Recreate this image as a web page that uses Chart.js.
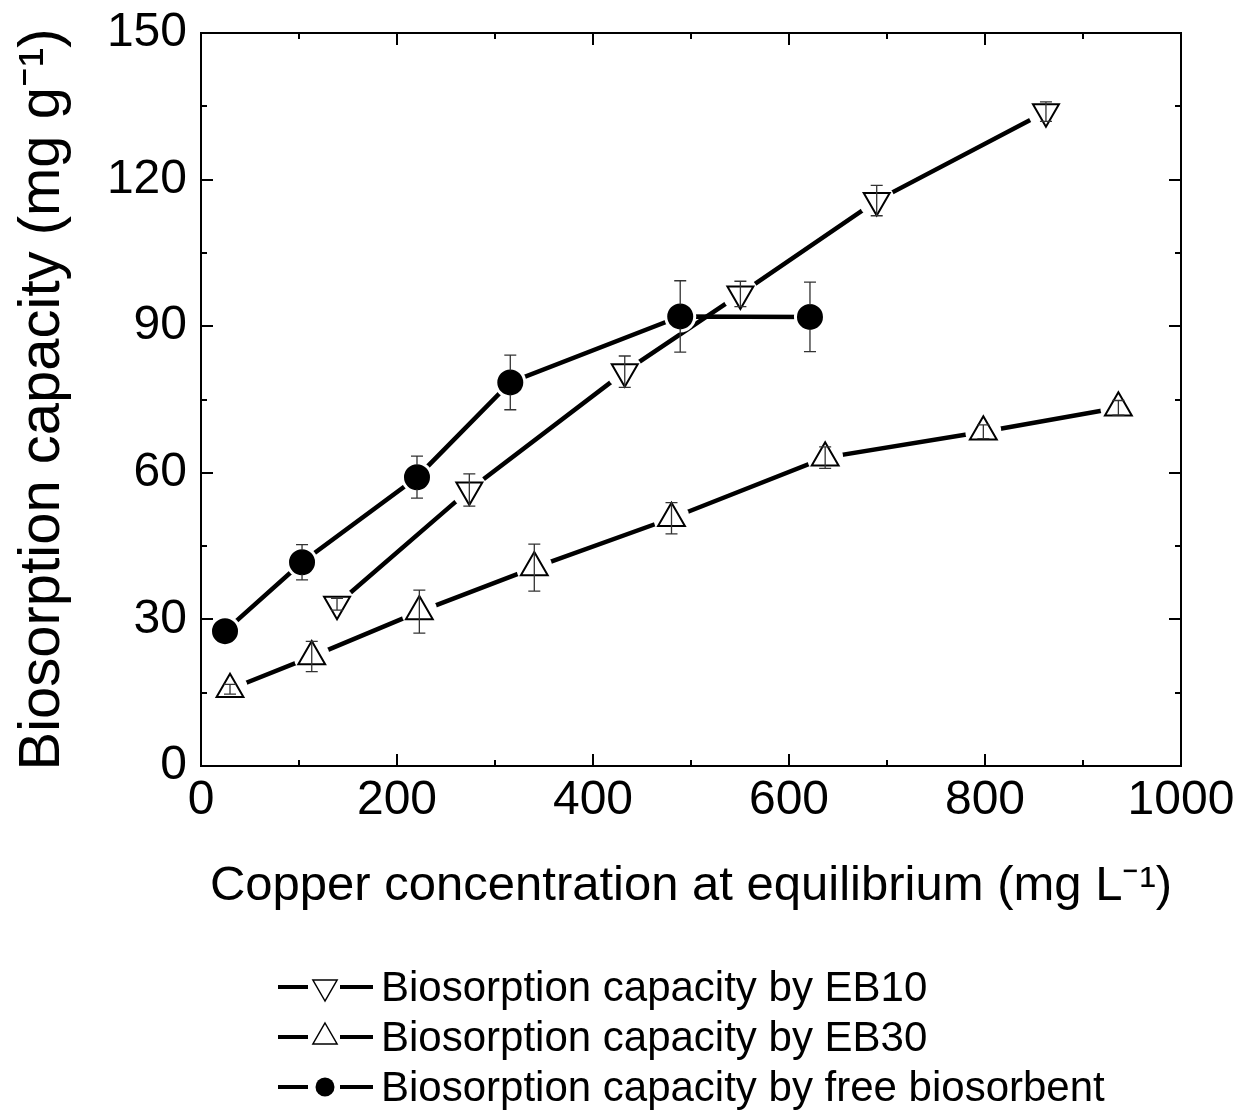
<!DOCTYPE html>
<html>
<head>
<meta charset="utf-8">
<script src="https://cdn.jsdelivr.net/npm/chart.js@4.4.1/dist/chart.umd.min.js"></script>
<style>
html, body { margin: 0; padding: 0; background: #fff; }
#wrap { position: relative; width: 1252px; height: 1110px; }
#legend { position: absolute; left: 278px; top: 962px; font-family: "Liberation Sans", Arial, sans-serif; font-size: 42px; color: #000; }
.row { height: 50px; display: flex; align-items: center; white-space: nowrap; }
.row svg { margin-right: 7px; }
</style>
</head>
<body>
<div id="wrap">
  <canvas id="myChart" width="1252" height="1110"></canvas>
  <div id="legend"></div>
</div>
<script>
// axis ticks
var xTicks = [0, 200, 400, 600, 800, 1000];
var xMinor = [100, 300, 500, 700, 900];
var yTicks = [0, 30, 60, 90, 120, 150];
var yMinor = [15, 45, 75, 105, 135];

var seriesNames = ['Biosorption capacity by EB10', 'Biosorption capacity by EB30', 'Biosorption capacity by free biosorbent'];

// EB10 (down triangles)
var eb10X = [138.8, 273.8, 432.4, 550.4, 689.5, 862.2];
var eb10Y = [33.1, 56.5, 80.7, 96.6, 115.7, 133.9];
var eb10Err = [1.2, 3.3, 3.2, 2.6, 3.1, 2.0];

// EB30 (up triangles)
var eb30X = [29.6, 113.0, 222.8, 340.1, 480.1, 636.9, 798.3, 936.1];
var eb30Y = [15.7, 22.4, 31.6, 40.6, 50.7, 63.1, 68.4, 73.3];
var eb30Err = [1.0, 3.1, 4.4, 4.8, 3.2, 2.2, 1.4, 1.5];

// free biosorbent (filled circles)
var freeX = [24.5, 103.1, 220.4, 315.6, 489.0, 621.4];
var freeY = [27.6, 41.7, 59.1, 78.5, 92.0, 91.9];
var freeErr = [1.0, 3.6, 4.3, 5.6, 7.3, 7.1];

var FONT = '"Liberation Sans", Arial, sans-serif';

function pts(xs, ys) {
    return xs.map(function (x, i) { return { x: x, y: ys[i] }; });
}

var series = [
    { data: pts(eb10X, eb10Y), err: eb10Err, style: 'triangle', rot: 180, r: 15, fill: '#fff', halo: 18, hide: 0 },
    { data: pts(eb30X, eb30Y), err: eb30Err, style: 'triangle', rot: 0, r: 15.5, fill: '#fff', halo: 18, hide: 0 },
    { data: pts(freeX, freeY), err: freeErr, style: 'circle', rot: 0, r: 12, fill: '#000', halo: 16, hide: 12 }
];

var datasets = [];
series.forEach(function (s, i) {
    // connecting line
    datasets.push({ label: seriesNames[i], data: s.data, showLine: true, borderColor: '#000', borderWidth: 4.5,
        pointRadius: 0, order: 3 });
    // white halo so the line stops short of the marker
    datasets.push({ label: seriesNames[i] + ' gap', data: s.data, showLine: false, pointStyle: 'circle',
        pointRadius: s.halo, pointBackgroundColor: '#fff', pointBorderWidth: 0, pointBorderColor: '#fff', order: 2 });
    // marker
    datasets.push({ label: seriesNames[i] + ' marker', data: s.data, showLine: false, pointStyle: s.style,
        pointRotation: s.rot, pointRadius: s.r, pointBackgroundColor: s.fill, pointBorderColor: '#000',
        pointBorderWidth: 2, order: 1, errors: s.err, errHide: s.hide });
});

const framePlugin = {
    id: 'frame',
    afterDatasetsDraw(chart) {
        const ctx = chart.ctx, a = chart.chartArea, x = chart.scales.x, y = chart.scales.y;
        ctx.save();
        ctx.strokeStyle = '#000';
        ctx.lineWidth = 2;
        ctx.strokeRect(a.left, a.top, a.right - a.left, a.bottom - a.top);
        ctx.beginPath();
        function xt(v, len) {
            const px = Math.round(x.getPixelForValue(v));
            ctx.moveTo(px, a.bottom); ctx.lineTo(px, a.bottom - len);
            ctx.moveTo(px, a.top); ctx.lineTo(px, a.top + len);
        }
        function yt(v, len) {
            const py = Math.round(y.getPixelForValue(v));
            ctx.moveTo(a.left, py); ctx.lineTo(a.left + len, py);
            ctx.moveTo(a.right, py); ctx.lineTo(a.right - len, py);
        }
        xTicks.forEach(function (v) { xt(v, 12); });
        xMinor.forEach(function (v) { xt(v, 6); });
        yTicks.forEach(function (v) { yt(v, 12); });
        yMinor.forEach(function (v) { yt(v, 6); });
        ctx.stroke();

        // error bars (hidden behind the filled circles)
        ctx.strokeStyle = '#333';
        ctx.lineWidth = 1.3;
        chart.data.datasets.forEach(function (ds) {
            if (!ds.errors) return;
            ds.data.forEach(function (p, j) {
                const px = x.getPixelForValue(p.x);
                const py = y.getPixelForValue(p.y);
                const top = y.getPixelForValue(p.y + ds.errors[j]);
                const bot = y.getPixelForValue(p.y - ds.errors[j]);
                ctx.beginPath();
                if (ds.errHide) {
                    if (top < py - ds.errHide) { ctx.moveTo(px, top); ctx.lineTo(px, py - ds.errHide); }
                    if (bot > py + ds.errHide) { ctx.moveTo(px, bot); ctx.lineTo(px, py + ds.errHide); }
                } else {
                    ctx.moveTo(px, top); ctx.lineTo(px, bot);
                }
                if (!ds.errHide || top < py - ds.errHide) { ctx.moveTo(px - 6, top); ctx.lineTo(px + 6, top); }
                if (!ds.errHide || bot > py + ds.errHide) { ctx.moveTo(px - 6, bot); ctx.lineTo(px + 6, bot); }
                ctx.stroke();
            });
        });
        ctx.restore();
    }
};

const ctx = document.getElementById('myChart').getContext('2d');
const myChart = new Chart(ctx, {
    type: 'scatter',
    data: { datasets: datasets },
    options: {
        responsive: false,
        animation: false,
        events: [],
        layout: { padding: { top: 33, right: 71, bottom: 194, left: 0 } },
        plugins: { legend: { display: false }, tooltip: { enabled: false } },
        scales: {
            x: {
                type: 'linear', min: 0, max: 1000,
                afterBuildTicks: function (s) { s.ticks = xTicks.map(function (v) { return { value: v }; }); },
                afterFit: function (s) { s.height = 150; s.paddingLeft = 0; s.paddingRight = 0; },
                grid: { display: false, drawTicks: false },
                border: { display: false },
                ticks: { color: '#000', font: { family: FONT, size: 48 }, padding: 6, maxRotation: 0, autoSkip: false,
                    callback: function (v) { return String(v); } },
                title: { display: true, text: 'Copper concentration at equilibrium (mg L\u207B\u00B9)', color: '#000',
                    font: { family: FONT, size: 49 }, padding: 0 }
            },
            y: {
                type: 'linear', min: 0, max: 150,
                afterBuildTicks: function (s) { s.ticks = yTicks.map(function (v) { return { value: v }; }); },
                afterFit: function (s) { s.width = 201; s.paddingTop = 0; s.paddingBottom = 0; },
                grid: { display: false, drawTicks: false },
                border: { display: false },
                ticks: { color: '#000', font: { family: FONT, size: 48 }, padding: 14, autoSkip: false,
                    callback: function (v) { return String(v); } },
                title: { display: true, text: 'Biosorption capacity (mg g\u207B\u00B9)', color: '#000',
                    font: { family: FONT, size: 58 }, padding: 8 }
            }
        }
    },
    plugins: [framePlugin]
});

// legend below the chart
var legendEl = document.getElementById('legend');
var marks = [
    '<polygon points="47,34 34.9,13 59.1,13" fill="#fff" stroke="#000" stroke-width="1.5"/>',
    '<polygon points="47,6 59.1,27 34.9,27" fill="#fff" stroke="#000" stroke-width="1.5"/>',
    '<circle cx="47" cy="20" r="9.5" fill="#000"/>'
];
seriesNames.forEach(function (name, i) {
    var row = document.createElement('div');
    row.className = 'row';
    row.innerHTML = '<svg width="96" height="40" viewBox="0 0 96 40">' +
        '<line x1="0" y1="20" x2="30" y2="20" stroke="#000" stroke-width="4"/>' +
        '<line x1="62" y1="20" x2="95" y2="20" stroke="#000" stroke-width="4"/>' + marks[i] + '</svg>' +
        '<span>' + name + '</span>';
    legendEl.appendChild(row);
});
</script>
</body>
</html>
